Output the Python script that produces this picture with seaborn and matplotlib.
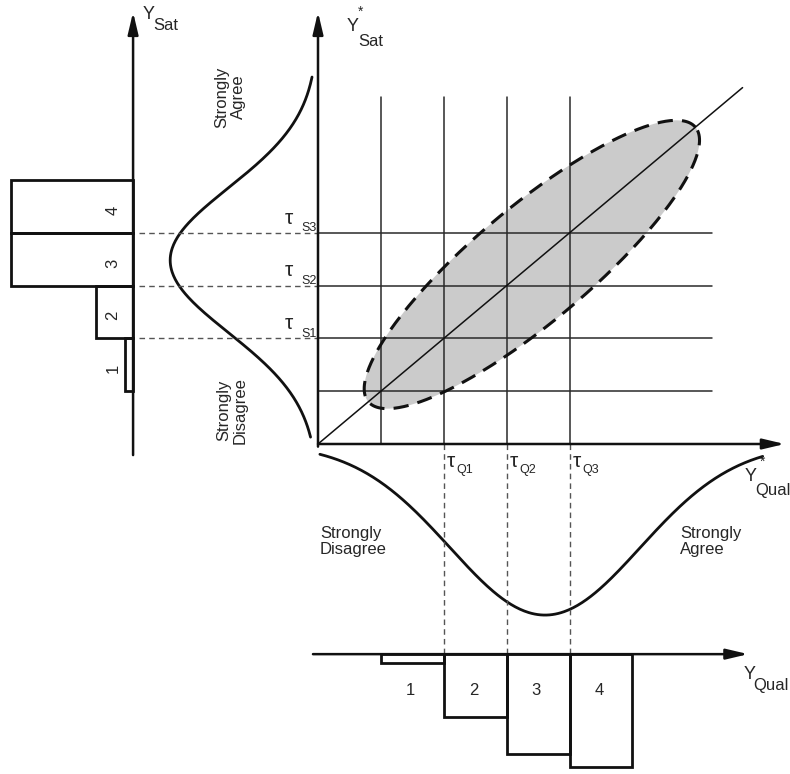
import matplotlib

matplotlib.use("Agg")

import matplotlib.pyplot as plt
import numpy as np
import pandas as pd
import seaborn as sns

# latent scale: category edges and thresholds (shared by both items)
categories = ["1", "2", "3", "4"]
cat_edges = [1, 2, 3, 4, 5]
grid_lines = [1, 2, 3, 4]
tau_sat = [2, 3, 4]
tau_sat_names = ["S1", "S2", "S3"]
tau_qual = [2, 3, 4]
tau_qual_names = ["Q1", "Q2", "Q3"]

# observed category frequencies (bar lengths, latent units)
sat_bars = [0.13, 0.59, 1.94, 1.94]
qual_bars = [0.17, 1.19, 1.89, 2.14]

# latent normal marginals: mean, sd, peak height
sat_density = (3.48, 1.37, 2.35)
qual_density = (3.61, 1.51, 3.24)

# bivariate contour: centre, half-length along diagonal, half-width (diagonal units)
ellipse_center = (3.4, 3.4)
ellipse_axes = (2.6, 0.7)

# layout (latent units); SX, SY = pixels per latent unit
SX, SY = 62.9, 52.8
SAT_AXIS_X = -2.94
QUAL_AXIS_Y = -3.98
TOP = 8.18
RIGHT = 7.42

sns.set_theme(style="white")
plt.rcParams["font.family"] = ["Liberation Sans", "DejaVu Sans"]

fig = plt.figure(figsize=(7.9, 7.74), dpi=100)
ax = fig.add_axes([0, 0, 1, 1])
ax.set_xlim(-318 / SX, 472 / SX)
ax.set_ylim(-330 / SY, 444 / SY)
ax.axis("off")

ink = "#111111"
arrow = dict(arrowstyle="-|>,head_length=1.1,head_width=0.26", color=ink, lw=1.8,
             shrinkA=0, shrinkB=0)


def axis_arrow(start, end):
    ax.annotate("", xy=end, xytext=start, arrowprops=arrow)


# joint distribution ellipse (built on screen scale so it stays a true ellipse)
theta = np.linspace(0, 2 * np.pi, 400)
diag = np.hypot(SX, SY)
u = np.array([SX, SY]) / diag
v = np.array([-u[1], u[0]])
a, b = ellipse_axes[0] * diag, ellipse_axes[1] * diag
ex = ellipse_center[0] + (a * np.cos(theta) * u[0] + b * np.sin(theta) * v[0]) / SX
ey = ellipse_center[1] + (a * np.cos(theta) * u[1] + b * np.sin(theta) * v[1]) / SY
ax.fill(ex, ey, color="#cbcbcb", lw=0, zorder=1)
ax.plot(ex, ey, color=ink, lw=2.2, dashes=(5, 3), zorder=4)

# grid at thresholds
top_grid = 6.57
right_grid = 6.26
for g in grid_lines:
    ax.plot([g, g], [0, top_grid], color="#2a2a2a", lw=1.1, zorder=2)
    ax.plot([0, right_grid], [g, g], color="#2a2a2a", lw=1.1, zorder=2)
ax.plot([0, 6.75], [0, 6.75], color=ink, lw=1.1, zorder=3)

# main axes
axis_arrow((0, -0.05), (0, TOP))
axis_arrow((0, 0), (RIGHT, 0))
ax.text(0.46, 7.9, "Y", fontsize=13, ha="left", va="center")
ax.text(0.67, 8.18, "*", fontsize=10, ha="center", va="center")
ax.text(0.64, 7.62, "Sat", fontsize=12, ha="left", va="center")
ax.text(6.79, -0.61, "Y", fontsize=13, ha="left", va="center")
ax.text(7.06, -0.33, "*", fontsize=10, ha="center", va="center")
ax.text(6.95, -0.88, "Qual", fontsize=12, ha="left", va="center")

# --- satisfaction marginal (left) ---
mu, sd, peak = sat_density
ys = np.linspace(0.13, 6.95, 300)
sat_curve = pd.DataFrame({"y": ys, "x": -peak * np.exp(-0.5 * ((ys - mu) / sd) ** 2)})
sns.lineplot(data=sat_curve, x="x", y="y", sort=False, color=ink, lw=2, ax=ax)

axis_arrow((SAT_AXIS_X, -0.21), (SAT_AXIS_X, TOP))
ax.text(-2.78, 8.14, "Y", fontsize=13, ha="left", va="center")
ax.text(-2.62, 7.92, "Sat", fontsize=12, ha="left", va="center")

sat_centers = [(lo + hi) / 2 for lo, hi in zip(cat_edges[:-1], cat_edges[1:])]
ax.barh(sat_centers, [-v for v in sat_bars], left=SAT_AXIS_X, height=1.0,
        fill=False, edgecolor=ink, lw=2, zorder=3)
for c, lab in zip(sat_centers, categories):
    ax.text(SAT_AXIS_X - 0.32, c - 0.07, lab, fontsize=12, rotation=90,
            ha="center", va="center")

for t, name in zip(tau_sat, tau_sat_names):
    ax.plot([SAT_AXIS_X + 0.1, 0], [t, t], color="#555555", lw=1, dashes=(4, 3), zorder=2)
    ax.text(-0.53, t + 0.28, "τ", fontsize=15, ha="left", va="center")
    ax.text(-0.27, t + 0.09, name, fontsize=9, ha="left", va="center")

ax.text(-1.4, 6.57, "Strongly\nAgree", fontsize=12, rotation=90,
        ha="center", va="center", linespacing=1.1)
ax.text(-1.37, 0.64, "Strongly\nDisagree", fontsize=12, rotation=90,
        ha="center", va="center", linespacing=1.1)

# --- quality marginal (bottom) ---
mu, sd, peak = qual_density
xs = np.linspace(0.03, 7.07, 300)
qual_curve = pd.DataFrame({"x": xs, "y": -peak * np.exp(-0.5 * ((xs - mu) / sd) ** 2)})
sns.lineplot(data=qual_curve, x="x", y="y", sort=False, color=ink, lw=2, ax=ax)

axis_arrow((-0.08, QUAL_AXIS_Y), (6.84, QUAL_AXIS_Y))
ax.text(6.76, -4.36, "Y", fontsize=13, ha="left", va="center")
ax.text(6.92, -4.58, "Qual", fontsize=12, ha="left", va="center")

qual_centers = [(lo + hi) / 2 for lo, hi in zip(cat_edges[:-1], cat_edges[1:])]
ax.bar(qual_centers, [-v for v in qual_bars], bottom=QUAL_AXIS_Y, width=1.0,
       fill=False, edgecolor=ink, lw=2, zorder=3)
for c, lab in zip(qual_centers, categories):
    ax.text(c - 0.03, QUAL_AXIS_Y - 0.68, lab, fontsize=12, ha="center", va="center")

for t, name in zip(tau_qual, tau_qual_names):
    ax.plot([t, t], [0, QUAL_AXIS_Y], color="#555555", lw=1, dashes=(4, 3), zorder=2)
    ax.text(t + 0.05, -0.34, "τ", fontsize=15, ha="left", va="center")
    ax.text(t + 0.2, -0.5, name, fontsize=9, ha="left", va="center")

ax.text(0.03, -1.84, "Strongly\nDisagree", fontsize=12, ha="left", va="center",
        linespacing=1.1)
ax.text(5.76, -1.84, "Strongly\nAgree", fontsize=12, ha="left", va="center",
        linespacing=1.1)

fig.savefig("out.png", dpi=100)
